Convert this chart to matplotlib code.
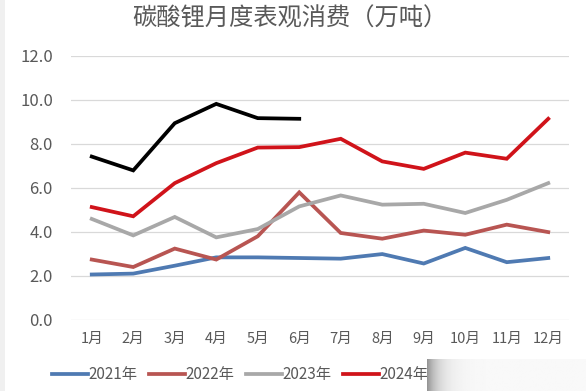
import numpy as np
import matplotlib
matplotlib.use("Agg")
import matplotlib.pyplot as plt
from matplotlib.ticker import FormatStrFormatter

plt.rcParams["font.family"] = ["Noto Sans CJK SC", "DejaVu Sans"]

TITLE = "碳酸锂月度表观消费（万吨）"
MONTHS = [f"{m}月" for m in range(1, 13)]

# monthly apparent consumption, 10k tonnes
Y2021 = [2.05, 2.09, 2.45, 2.83, 2.83, 2.80, 2.77, 2.98, 2.55, 3.26, 2.61, 2.80]
Y2022 = [2.73, 2.39, 3.23, 2.73, 3.79, 5.79, 3.94, 3.68, 4.05, 3.86, 4.32, 3.98]
Y2023 = [4.58, 3.83, 4.67, 3.74, 4.12, 5.15, 5.65, 5.23, 5.27, 4.85, 5.45, 6.21]
Y2024 = [5.12, 4.70, 6.21, 7.12, 7.83, 7.85, 8.23, 7.20, 6.86, 7.60, 7.32, 9.14]
Y2025 = [7.42, 6.79, 8.94, 9.82, 9.17, 9.14]

SERIES = [
    ("2021年", Y2021, "#4f7ab2"),
    ("2022年", Y2022, "#b85552"),
    ("2023年", Y2023, "#a8a8a8"),
    ("2024年", Y2024, "#d0131a"),
    ("2025年", Y2025, "#000000"),
]

W, H = 586, 391
fig = plt.figure(figsize=(W / 100, H / 100), dpi=100)
fig.patch.set_facecolor("white")

# faint grey strip on the left edge
fig.add_artist(plt.Rectangle((0, 0), 5 / W, 1, transform=fig.transFigure,
                             color="#f0f0f0", lw=0))

ax = fig.add_axes([71 / W, (H - 319.5) / H, (569 - 71) / W, (319.5 - 56) / H])
x = np.arange(1, 13)
for label, vals, col in SERIES:
    ax.plot(x[:len(vals)], vals, color=col, lw=2.7, label=label,
            solid_joinstyle="miter", zorder=3)

ax.set_xlim(0.5, 12.5)
ax.set_ylim(0, 12)
ax.set_yticks(np.arange(0, 12.1, 2))
ax.yaxis.set_major_formatter(FormatStrFormatter("%.1f"))
ax.set_xticks(x)
ax.set_xticklabels(MONTHS)
ax.grid(axis="y", color="#d9d9d9", lw=0.9)
ax.set_axisbelow(True)
for s in ax.spines.values():
    s.set_visible(False)
ax.tick_params(length=0, colors="#595959")
ax.tick_params(axis="y", labelsize=12, pad=13)
ax.tick_params(axis="x", labelsize=10.5, pad=9)

fig.text(290 / W, 1 - 19 / H, TITLE, ha="center", va="center",
         fontsize=17.5, color="#595959")

fig.legend(loc="center left", bbox_to_anchor=(52 / W, 1 - 375 / H),
           frameon=False, ncol=5, fontsize=11, handlelength=2.35,
           handletextpad=0.05, columnspacing=0.75, borderaxespad=0,
           borderpad=0, labelcolor="#595959")

# washed-out strip over the cut-off end of the legend
fade = fig.add_axes([427 / W, 0, 1 - 427 / W, 32 / H])
fade.set_zorder(20)
grad = np.linspace(0, 1, 300)
shade = 0.975 - 0.4 * np.exp(-grad * 14)
img = np.tile(shade, (10, 1))
fade.imshow(img, cmap="gray", vmin=0, vmax=1, aspect="auto",
            interpolation="bilinear")
fade.axis("off")

fig.savefig("out.png", dpi=100)
